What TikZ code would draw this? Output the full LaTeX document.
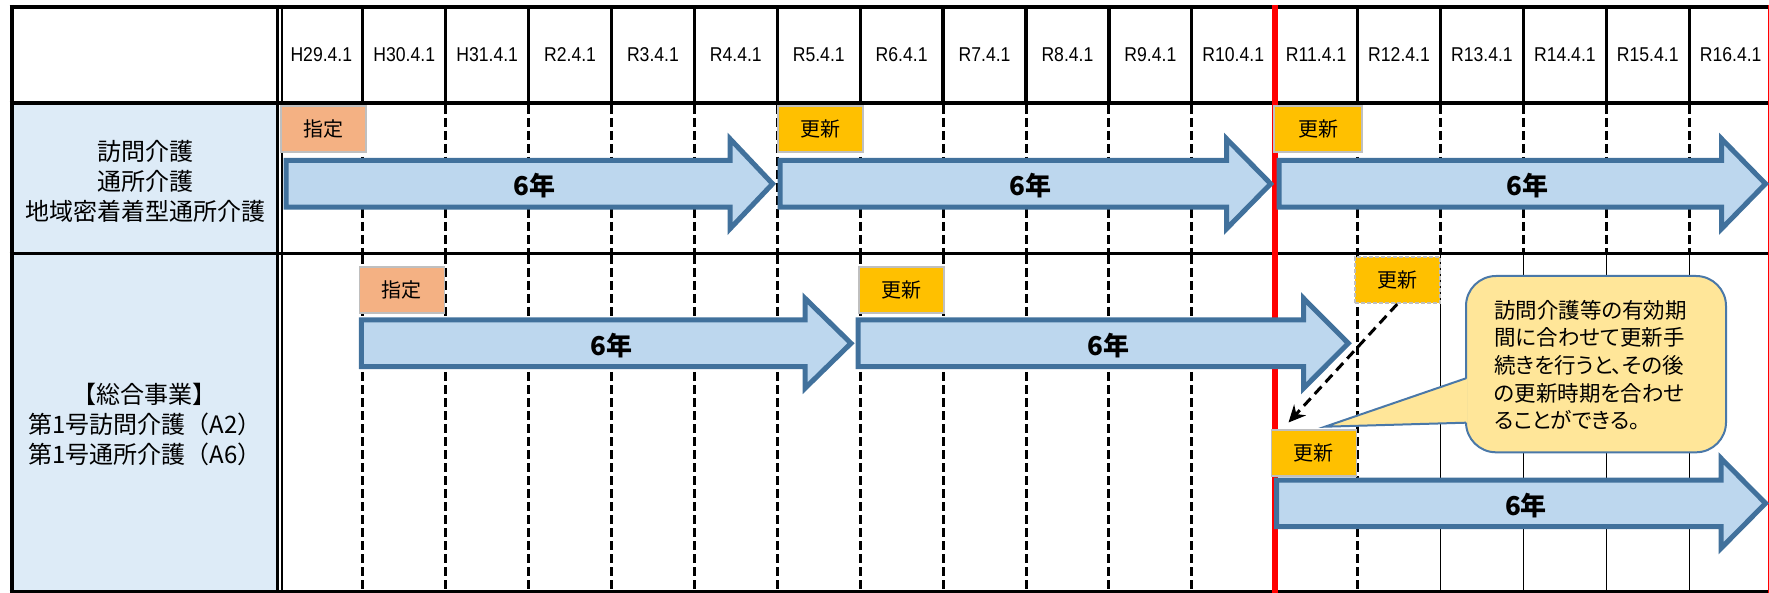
\documentclass[tikz,border=0pt]{standalone}
\usepackage{fontspec}
\setmainfont{Noto Sans CJK JP}
\newfontfamily\latf[FakeStretch=0.88]{Liberation Sans}
\newfontfamily\jpp[RawFeature=+palt]{Noto Sans CJK JP}
\usetikzlibrary{arrows.meta}
\definecolor{arrfill}{HTML}{BDD7EE}
\definecolor{arrline}{HTML}{41719C}
\definecolor{leftfill}{HTML}{DDEBF7}
\definecolor{shitei}{HTML}{F4B183}
\definecolor{koshin}{HTML}{FFC000}
\definecolor{tagline}{HTML}{BFBFBF}
\definecolor{callfill}{HTML}{FFE699}
\definecolor{callline}{HTML}{4A78A8}
\tikzset{
  hdrline/.style={line width=3.3pt, black},
  gdash/.style={line width=3pt, black, dash pattern=on 9pt off 4pt},
  gthin/.style={line width=1.3pt, black},
  arr/.style={draw=arrline, fill=arrfill, line width=5pt, line join=miter},
  yr/.style={font=\bfseries\fontsize{26}{30}\selectfont, inner sep=0pt},
  hdr/.style={font=\latf\fontsize{20}{24}\selectfont, inner sep=0pt},
  tagbox/.style={draw=tagline, line width=1.6pt, minimum width=85pt, minimum height=46pt, inner sep=0pt, font=\fontsize{20}{24}\selectfont},
  lefttext/.style={align=center, font=\fontsize{24}{30}\selectfont, inner sep=0pt},
  calltext/.style={align=left, font=\jpp\fontsize{21.5}{27.7}\selectfont, inner sep=0pt, anchor=west},
  dasharr/.style={line width=3pt, black, dash pattern=on 10pt off 6pt, -{Stealth[length=17pt,width=16pt]}}
}
\newcommand\blockarr[5]{%
  \draw[arr] ({#2},{#5-23.3}) -- ({#3},{#5-23.3}) -- ({#3},{#5-45}) -- ({#4},{#5}) -- ({#3},{#5+45}) -- ({#3},{#5+23.3}) -- ({#2},{#5+23.3}) -- cycle;
  \node[yr] (#1) at ({(#2+#4)/2+5},{#5+2}) {6年};}
\begin{document}
\begin{tikzpicture}[x=1pt,y=-1pt]
\useasboundingbox (0,0) rectangle (1769,593);
% left column fills
\fill[leftfill] (12,103) rectangle (278,253.7);
\fill[leftfill] (12,253.7) rectangle (278,591);
% header vertical lines
\foreach \i in {0,...,16} \draw[hdrline] ({362.8+82.9*\i},7) -- ({362.8+82.9*\i},103);
% row 1 dashed lines
\foreach \i in {0,1,2,3,4,5,6,7,8,9,10,12,13,14,15,16} \draw[gdash] ({362.8+82.9*\i},105) -- ({362.8+82.9*\i},252.5);
% row 2 lines
\foreach \i in {0,1,2,3,4,5,6,7,8,9,10,12} \draw[gdash] ({362.8+82.9*\i},255) -- ({362.8+82.9*\i},590);
\foreach \i in {13,14,15,16} \draw[gthin] ({362.8+82.9*\i},255) -- ({362.8+82.9*\i},590);
% horizontal lines
\draw[line width=4pt] (9.6,7) -- (1769,7);
\draw[line width=4.5pt] (9.6,103) -- (1769,103);
\draw[line width=3pt] (9.6,253.7) -- (1769,253.7);
\draw[line width=3.5pt] (9.6,591.3) -- (1769,591.3);
\draw[line width=4.5pt] (11.9,5) -- (11.9,593);
\draw[line width=3.3pt] (277.6,5) -- (277.6,593);
\draw[line width=2pt] (281.7,5) -- (281.7,593);
% red lines
\draw[line width=6.5pt, red] (1275,5) -- (1275,593);
\draw[line width=1.3pt, red] (1768.3,5) -- (1768.3,593);
% header labels
\foreach \lab [count=\j from 0] in {H29.4.1,H30.4.1,H31.4.1,R2.4.1,R3.4.1,R4.4.1,R5.4.1,R6.4.1,R7.4.1,R8.4.1,R9.4.1,R10.4.1,R11.4.1,R12.4.1,R13.4.1,R14.4.1,R15.4.1,R16.4.1}
  \node[hdr] (h\j) at ({321.35+82.9*\j},55) {\lab};
% left labels
\node[lefttext] (l1) at (145,181) {訪問介護\\通所介護\\地域密着着型通所介護};
\node[lefttext] (l2) at (145,424) {【総合事業】\\第1号訪問介護（A2）\\第1号通所介護（A6）};
% arrows
\blockarr{a1}{286}{730}{772.6}{183.8}
\blockarr{a2}{780}{1226.5}{1270.7}{183.8}
\blockarr{a3}{1279}{1721.5}{1765.5}{183.8}
\blockarr{b1}{361.3}{805}{851}{343.3}
\blockarr{b2}{858}{1303.5}{1348.3}{343.3}
\blockarr{b3}{1276.5}{1721}{1765.5}{503.3}
% tags
\node[tagbox, fill=shitei] (t1) at (323.75,129) {指定};
\node[tagbox, fill=koshin] (t2) at (820.6,129) {更新};
\node[tagbox, fill=koshin, minimum width=88pt] (t3) at (1318,129) {更新};
\node[tagbox, fill=shitei] (t4) at (401.9,290) {指定};
\node[tagbox, fill=koshin] (t5) at (901.2,290) {更新};
\node[tagbox, fill=koshin, dashed, dash pattern=on 4pt off 2pt] (t6) at (1397.2,280.3) {更新};
\node[tagbox, fill=koshin] (t7) at (1313.9,453) {更新};
% dashed connector
\coordinate (dend) at (1288.5,422.5);
\draw[dasharr] (t6.south) -- (dend);
% callout
\draw[draw=callline, fill=callfill, line width=2pt, rounded corners=30pt] (1466,276) rectangle (1726,452.3);
\fill[callfill] (1467.6,378.3) -- (1325,426.7) -- (1467.6,422.7) -- cycle;
\draw[callline, line width=2pt, line join=miter] (1466,378.3) -- (1325,426.7) -- (1466,422.7);
\node[calltext] (ct) at (1494,365) {訪問介護等の有効期\\間に合わせて更新手\\続きを行うと、その後\\の更新時期を合わせ\\ることができる。};
\end{tikzpicture}
\end{document}
